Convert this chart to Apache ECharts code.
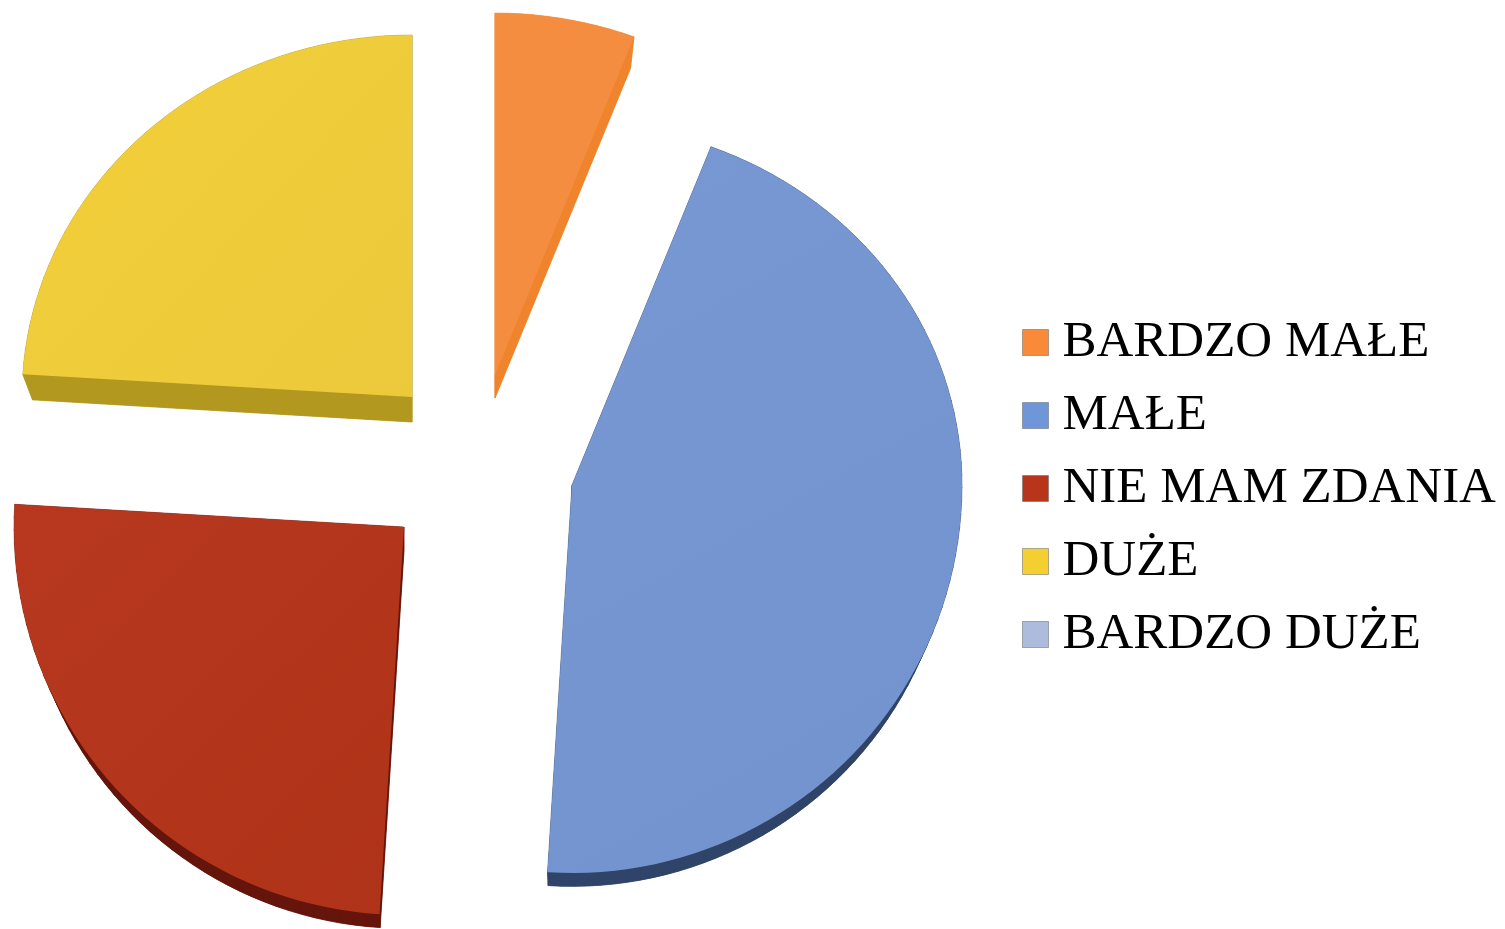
<!DOCTYPE html>
<html>
<head>
<meta charset="utf-8">
<title>Pie</title>
<style>
  html, body { margin: 0; padding: 0; background: #fff; }
  #chart { width: 1505px; height: 929px; }
</style>
<script src="https://cdn.jsdelivr.net/npm/echarts@6/dist/echarts.min.js"></script>
</head>
<body>
<div id="chart"></div>
<script>
// data (percent)
const categories = ['BARDZO MAŁE', 'MAŁE', 'NIE MAM ZDANIA', 'DUŻE', 'BARDZO DUŻE'];
const shares = [5.8, 45.2, 25, 24, 0];

// look of each slice
const topColors = ['#F58D41', '#7898D3', '#B7381F', '#F2CF38', '#ADBCDC'];
const topColorsEnd = ['#F58D41', '#7293CD', '#AF3318', '#ECC93B', '#ADBCDC'];
const wallColors = ['#EF842C', '#2F4468', '#65150B', '#B2981F', '#8090B0'];
const legendColors = ['#F98A3A', '#7096DA', '#B8341B', '#F5CF30', '#ADBCDC'];

// exploded layout: where each slice's tip sits and how far its underside drops
const tipX = [495, 572, 404, 412, 0];
const tipY = [375, 485, 527, 397, 0];
const drops = [23, 23, 23, 25, 0];

// the disc is tilted, so it is a bit shorter towards the back
const radiusX = 390;
const radiusBack = 362;
const radiusFront = 388;
const undersideScale = 0.975;

const total = shares.reduce((a, b) => a + b, 0);

function rimPoint(i, angle, scale, drop) {
  const cos = Math.cos(angle);
  const ry = cos > 0 ? radiusBack : radiusFront;
  return [
    tipX[i] + radiusX * scale * Math.sin(angle),
    tipY[i] + drop - ry * scale * cos
  ];
}

function renderSlice(i) {
  return function (params, api) {
    const value = api.value(0);
    if (!value) {
      return null;
    }
    const before = shares.slice(0, i).reduce((a, b) => a + b, 0);
    const start = before / total * Math.PI * 2;
    const end = start + value / total * Math.PI * 2;
    const steps = Math.max(4, Math.ceil((end - start) / (Math.PI / 90)));
    const top = [[tipX[i], tipY[i]]];
    const under = [[tipX[i], tipY[i] + drops[i]]];
    for (let s = 0; s <= steps; s++) {
      const a = start + (end - start) * s / steps;
      top.push(rimPoint(i, a, 1, 0));
      under.push(rimPoint(i, a, undersideScale, drops[i]));
    }
    const wallStyle = { fill: wallColors[i], stroke: wallColors[i], lineWidth: 0.5 };
    const children = [{ type: 'polygon', shape: { points: under }, style: wallStyle }];
    // side strips between the top face and the underside
    for (let k = 0; k < top.length; k++) {
      const n = (k + 1) % top.length;
      children.push({
        type: 'polygon',
        shape: { points: [top[k], top[n], under[n], under[k]] },
        style: wallStyle
      });
    }
    children.push({
      type: 'polygon',
      shape: { points: top },
      style: {
        fill: new echarts.graphic.LinearGradient(0, 0, 1, 1, [
          { offset: 0, color: topColors[i] },
          { offset: 1, color: topColorsEnd[i] }
        ])
      }
    });
    return { type: 'group', children: children };
  };
}

const myChart = echarts.init(document.getElementById('chart'), null, { renderer: 'canvas' });

myChart.setOption({
  animation: false,
  backgroundColor: '#fff',
  legend: {
    orient: 'vertical',
    left: 1017,
    top: 312,
    itemWidth: 26,
    itemHeight: 26,
    itemGap: 22,
    icon: 'rect',
    selectedMode: false,
    data: categories,
    itemStyle: { borderColor: 'rgba(110,110,110,0.55)', borderWidth: 1 },
    textStyle: {
      fontFamily: '"Liberation Serif", serif',
      fontSize: 51,
      color: '#000',
      padding: [0, 0, 0, 9]
    }
  },
  series: categories.map((name, i) => ({
    type: 'custom',
    name: name,
    coordinateSystem: 'none',
    itemStyle: { color: legendColors[i] },
    data: [[shares[i]]],
    silent: true,
    renderItem: renderSlice(i)
  }))
});
</script>
</body>
</html>
